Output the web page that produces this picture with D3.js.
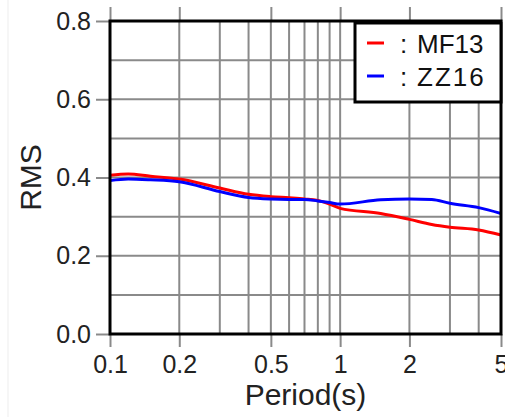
<!doctype html>
<html lang="en">
<head>
<meta charset="utf-8">
<title>RMS vs Period</title>
<script src="https://cdn.jsdelivr.net/npm/d3@7"></script>
<style>
	body { margin: 0; background: #fff; }
	svg text { font-family: "Liberation Sans", Arial, Helvetica, sans-serif; fill: #222; }
</style>
</head>
<body>
<div id="chart"></div>
<script>
/* data */
var periods = [0.1, 0.12, 0.15, 0.2, 0.3, 0.4, 0.5, 0.6, 0.7, 0.8, 0.9, 1, 1.5, 2, 2.5, 3, 4, 5];
var mf13 = [0.406, 0.409, 0.403, 0.396, 0.373, 0.357, 0.351, 0.348, 0.345, 0.341, 0.332, 0.321, 0.308, 0.293, 0.280, 0.273, 0.266, 0.253];
var zz16 = [0.392, 0.396, 0.394, 0.389, 0.364, 0.349, 0.345, 0.344, 0.344, 0.340, 0.336, 0.332, 0.343, 0.345, 0.344, 0.334, 0.323, 0.308];
var xTickLabels = [0.1, 0.2, 0.5, 1, 2, 5];
var xGrid = [0.1, 0.2, 0.3, 0.4, 0.5, 0.6, 0.7, 0.8, 0.9, 1, 2, 3, 4, 5];
var yTickLabels = [0, 0.2, 0.4, 0.6, 0.8];
var yGrid = [0.1, 0.2, 0.3, 0.4, 0.5, 0.6, 0.7];
var seriesNames = ['MF13', 'ZZ16'];
var seriesColors = ['#ff0000', '#0000ff'];

/* view */
var size = { width: 505, height: 417 };
var margin = { top: 21, right: 4, bottom: 83, left: 110 };
var innerW = size.width - margin.left - margin.right;
var innerH = size.height - margin.top - margin.bottom;

var svg = d3.select('#chart').append('svg')
	.attr('width', size.width)
	.attr('height', size.height);

// faint picture edge
svg.append('line')
	.attr('x1', 8).attr('x2', 8).attr('y1', 0).attr('y2', size.height)
	.style('stroke', '#ededed').style('stroke-width', 1);

var g = svg.append('g').attr('transform', 'translate(' + margin.left + ',' + margin.top + ')');

var x = d3.scaleLog().domain([0.1, 5]).range([0, innerW]);
var y = d3.scaleLinear().domain([0, 0.8]).range([innerH, 0]);

var gridColor = '#8a8a8a';

// grid
g.selectAll('line.vgrid').data(xGrid).enter().append('line')
	.attr('class', 'vgrid')
	.attr('x1', function(d){ return x(d); }).attr('x2', function(d){ return x(d); })
	.attr('y1', 0).attr('y2', innerH)
	.style('stroke', gridColor).style('stroke-width', 2);

g.selectAll('line.hgrid').data(yGrid).enter().append('line')
	.attr('class', 'hgrid')
	.attr('x1', 0).attr('x2', innerW)
	.attr('y1', function(d){ return y(d); }).attr('y2', function(d){ return y(d); })
	.style('stroke', gridColor).style('stroke-width', 2);

// axes
var xAxis = g.append('g')
	.attr('transform', 'translate(0,' + innerH + ')')
	.call(d3.axisBottom(x).tickValues(xTickLabels).tickFormat(d3.format('')).tickSize(13).tickPadding(6));
var xTop = g.append('g')
	.call(d3.axisTop(x).tickValues(xTickLabels).tickFormat('').tickSize(14));
var yAxis = g.append('g')
	.call(d3.axisLeft(y).tickValues(yTickLabels).tickFormat(d3.format('.1f')).tickSize(14).tickPadding(5));

[xAxis, xTop, yAxis].forEach(function(a){
	a.select('.domain').remove();
	a.selectAll('.tick line').style('stroke', gridColor).style('stroke-width', 2);
	a.selectAll('.tick text').style('font-size', '25px').style('fill', '#222');
});
xAxis.selectAll('.tick text').attr('dy', '0.78em');

// series
var line = d3.line()
	.x(function(d){ return x(d[0]); })
	.y(function(d){ return y(d[1]); })
	.curve(d3.curveMonotoneX);

[mf13, zz16].forEach(function(vals, i){
	g.append('path')
		.datum(periods.map(function(p, j){ return [p, vals[j]]; }))
		.attr('d', line)
		.style('fill', 'none')
		.style('stroke', seriesColors[i])
		.style('stroke-width', 3);
});

// frame
g.append('rect')
	.attr('x', 0).attr('y', 0).attr('width', innerW).attr('height', innerH)
	.style('fill', 'none').style('stroke', '#000').style('stroke-width', 3);

// legend
var legend = g.append('g').attr('transform', 'translate(' + (innerW - 146) + ',2)');
legend.append('rect')
	.attr('x', 0).attr('y', 0).attr('width', 146).attr('height', 79)
	.style('fill', '#fff').style('stroke', '#000').style('stroke-width', 3);
seriesNames.forEach(function(name, i){
	var row = legend.append('g').attr('transform', 'translate(0,' + (20 + i * 33) + ')');
	row.append('line')
		.attr('x1', 12).attr('x2', 29).attr('y1', 0).attr('y2', 0)
		.style('stroke', seriesColors[i]).style('stroke-width', 3);
	row.append('text')
		.attr('x', 45).attr('y', 10)
		.style('font-size', '26px').style('fill', '#111')
		.text(':');
	row.append('text')
		.attr('x', 62).attr('y', 10)
		.style('font-size', '26px').style('fill', '#111')
		.style('letter-spacing', i === 1 ? '2px' : '0px')
		.text(name);
});

// axis titles
svg.append('text')
	.attr('x', margin.left + innerW / 2).attr('y', 405)
	.attr('text-anchor', 'middle')
	.style('font-size', '30px')
	.text('Period(s)');
svg.append('text')
	.attr('transform', 'translate(41,' + (margin.top + innerH / 2) + ') rotate(-90)')
	.attr('text-anchor', 'middle')
	.style('font-size', '30px')
	.text('RMS');
</script>
</body>
</html>
